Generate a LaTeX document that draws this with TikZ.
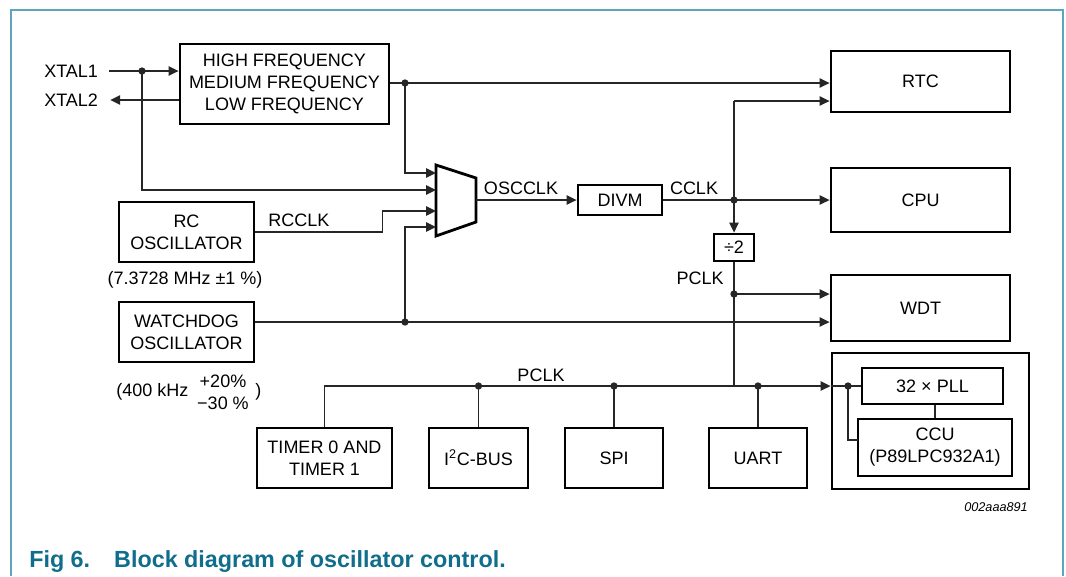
\documentclass[tikz,border=0pt]{standalone}
\usepackage{fontspec}
\setmainfont{Liberation Sans}
\usetikzlibrary{arrows.meta}
\definecolor{framecol}{RGB}{95,165,190}
\definecolor{capcol}{RGB}{16,110,140}
\newcommand{\blk}[6]{%
  \pgfmathsetmacro\bkw{(#4-#2)*0.75}%
  \pgfmathsetmacro\bkh{(#5-#3)*0.75}%
  \node[box, minimum width=\bkw pt, minimum height=\bkh pt] (#1) at ({(#2+#4)/2},{(#3+#5)/2}) {#6};}
\begin{document}
\begin{tikzpicture}[x=0.75pt,y=-0.75pt,
  every node/.style={font=\fontsize{13.5}{16.5}\selectfont},
  box/.style={draw, line width=2.1pt, inner sep=0pt, align=center},
  wire/.style={line width=1.2pt, draw=black!85},
  arr/.style={wire, -{Triangle[length=7.5pt,width=7pt]}},
  dot/.style={circle, fill=black!85, inner sep=0pt, minimum size=5.5pt},
  lbl/.style={inner sep=0pt}]
\useasboundingbox (0,0) rectangle (1066,576);
% frame
\draw[framecol, line width=1.1pt] (11,576) -- (11,10) -- (1063,10) -- (1063,576);
% boxes
\blk{hf}{180}{44}{389}{124}{HIGH FREQUENCY\\MEDIUM FREQUENCY\\LOW FREQUENCY}
\blk{rc}{119}{202}{254}{262}{RC\\OSCILLATOR}
\blk{wd}{119}{302}{254}{362}{WATCHDOG\\OSCILLATOR}
\blk{divm}{578}{185}{662}{215}{DIVM}
\blk{div2}{714}{234}{754}{261}{÷2}
\blk{rtc}{831}{51}{1010}{112}{RTC}
\blk{cpu}{831}{168}{1010}{232}{CPU}
\blk{wdt}{831}{275}{1010}{341}{WDT}
\blk{tmr}{257}{428}{392}{488}{TIMER 0 AND\\TIMER 1}
\blk{i2c}{429}{428}{528}{488}{I\textsuperscript{2}C-BUS}
\blk{spi}{565}{428}{663}{488}{SPI}
\blk{uart}{709}{428}{807}{488}{UART}
\blk{grp}{832}{353}{1029}{489}{}
\blk{pll}{862}{368}{1003}{404}{32 × PLL}
\blk{ccu}{858}{419}{1012}{476}{CCU\\(P89LPC932A1)}
% multiplexer
\draw[line width=2.1pt] (436,165) -- (476,178) -- (476,222) -- (436,236) -- cycle;
\coordinate (m1) at (436,173);
\coordinate (m2) at (436,190);
\coordinate (m3) at (436,211);
\coordinate (m4) at (436,227);
\coordinate (mo) at (476,200);
% text labels
\node[lbl, anchor=west] (xt1) at (44,71) {XTAL1};
\node[lbl, anchor=west] (xt2) at (44,100) {XTAL2};
\node[lbl] (lrc) at (299,220) {RCCLK};
\node[lbl] (losc) at (521,188) {OSCCLK};
\node[lbl] (lcclk) at (694,188) {CCLK};
\node[lbl] (lp1) at (700,278) {PCLK};
\node[lbl] (lp2) at (541,375) {PCLK};
\node[lbl] (rcf) at (185,280) {(7.3728 MHz ±1 \%)};
\node[lbl, anchor=west] (wf1) at (116,392) {(400 kHz};
\node[lbl] (wf2) at (223,381) {+20\%};
\node[lbl] (wf3) at (223,403) {−30 \%};
\node[lbl, anchor=west] (wf4) at (255,392) {)};
\node[lbl, anchor=east, font=\itshape\fontsize{9.5}{11}\selectfont] (fid) at (1028,507) {002aaa891};
\node[anchor=base west, inner sep=0pt, text=capcol, font=\bfseries\fontsize{17.5}{20}\selectfont] (cap) at (29,567) {Fig 6.\hspace{18pt}Block diagram of oscillator control.};
% junction dots
\node[dot] (j1) at (142,71) {};
\node[dot] (j2) at (405,83) {};
\node[dot] (j3) at (405,322) {};
\node[dot] (j4) at (734,200) {};
\node[dot] (j5) at (734,294) {};
\node[dot] (j6) at (478.5,386) {};
\node[dot] (j7) at (614,386) {};
\node[dot] (j8) at (758,386) {};
\node[dot] (j9) at (848,386) {};
\coordinate (c1) at (734,101);
\coordinate (bj) at (734,386);
\coordinate (tb) at (324.5,386);
\coordinate (ccin) at (858,440);
% connectors
\draw[arr] ([xshift=8pt]xt1.east) -- (j1 -| hf.west);
\draw[arr] (xt2.east -| hf.west) -- ([xshift=9pt]xt2.east);
\draw[arr] (j1.center) |- (m2);
\draw[arr] (hf.east |- j2) -- (rtc.west |- j2);
\draw[arr] (j2.center) |- (m1);
\draw[arr] (rc.east) -- ++(127,0) |- (m3);
\draw[arr] (wd.east |- j3) -- (wdt.west |- j3);
\draw[arr] (j3.center) |- (m4);
\draw[arr] (mo) -- (divm.west);
\draw[arr] (divm.east) -- (cpu.west);
\draw[arr] (c1) -- (c1 -| rtc.west);
\draw[arr] (c1) -- (div2.north);
\draw[wire] (div2.south) -- (bj);
\draw[arr] (j5.center) -- (j5 -| wdt.west);
\draw[arr] (tmr.north) -- (tb) -- (tb -| grp.west);
\draw[wire] (tb -| grp.west) -- (tb -| pll.west);
\draw[wire] (j6.center) -- (i2c.north);
\draw[wire] (j7.center) -- (spi.north);
\draw[wire] (j8.center) -- (uart.north);
\draw[wire] (j9.center) |- (ccin);
\draw[wire] (pll.south -| ccu.north) -- (ccu.north);
\end{tikzpicture}
\end{document}
